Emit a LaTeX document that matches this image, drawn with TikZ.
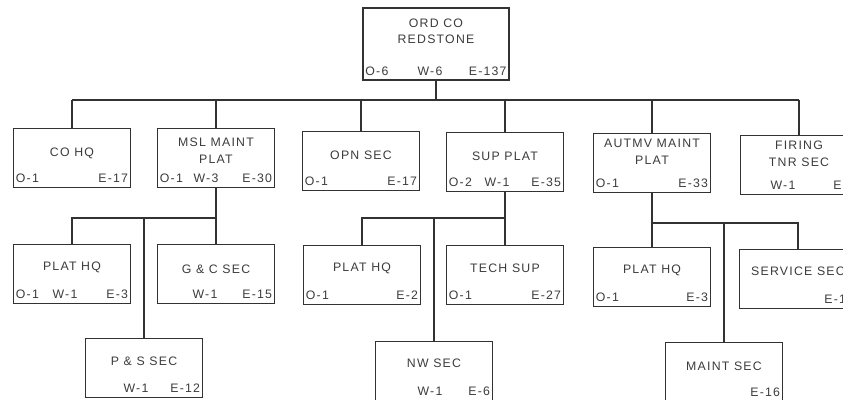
\documentclass[tikz,border=0pt]{standalone}
\usepackage{fontspec}
\usepackage{tikz}
\usepackage{xcolor}
\usetikzlibrary{calc,positioning}
\newfontfamily\letterfont[LetterSpace=10]{Liberation Sans}
\definecolor{inkgray}{RGB}{60,60,60}
\definecolor{linegray}{RGB}{50,50,50}

\begin{document}
\begin{tikzpicture}[x=0.03cm,y=-0.03cm,
  orgbox/.style={draw=linegray,line width=1.4pt,minimum width=3.51cm,minimum height=1.77cm,inner sep=0pt},
  ttl/.style={font=\letterfont\fontsize{10.5}{14}\selectfont,text=inkgray,align=center,inner sep=0pt},
  cnt/.style={font=\letterfont\fontsize{10.5}{12}\selectfont,text=inkgray,inner sep=0pt},
  wire/.style={draw=linegray,line width=1.1pt}]
\clip (0,0) rectangle (843,400);
\fill[white] (0,0) rectangle (843,400);
% top box
\node[orgbox,minimum width=4.38cm,minimum height=2.16cm] (ord) at (436,44) {};
\node[ttl] (ord-t) at ($(ord.north)+(0,24)$) {ORD CO\\REDSTONE};
% the other boxes
\foreach \n/\x/\y/\dy/\t in {cohq/72/158/26/{CO HQ},msl/216/158/23/{MSL MAINT\\PLAT},opn/361/161/25/{OPN SEC},
  sup/505/162/25/{SUP PLAT},autmv/652/163/19/{AUTMV MAINT\\PLAT},firing/799/165/19/{FIRING\\TNR SEC},
  plathq1/72/274/24/{PLAT HQ},gc/216/274/26/{G \& C SEC},plathq2/362/275/24/{PLAT HQ},
  techsup/505/275/24/{TECH SUP},plathq3/652/277/24/{PLAT HQ},service/798/279/23/{SERVICE SEC},
  ps/144/368/24/{P \& S SEC},nw/434/371/23/{NW SEC},maint/724/372/25/{MAINT SEC}}{
  \node[orgbox] (\n) at (\x,\y) {};
  \node[ttl] (\n-t) at ($(\n.north)+(0,\dy)$) {\t};
}
% strengths
\foreach \n/\v in {ord/6,cohq/1,msl/1,opn/1,sup/2,autmv/1,plathq1/1,plathq2/1,techsup/1,plathq3/1}
  \node[cnt,anchor=west] (\n-o) at ($(\n.south west)+(3,-10)$) {O-\v};
\foreach \n/\v/\d in {ord/6/-6,msl/3/-10,sup/1/-8,firing/1/-16,plathq1/1/-7,gc/1/-11,ps/1/-8,nw/1/-4}
  \node[cnt] (\n-w) at ($(\n.south)+(\d,-10)$) {W-\v};
\foreach \n/\v in {ord/137,cohq/17,msl/30,opn/17,sup/35,autmv/33,firing/5,plathq1/3,gc/15,
  plathq2/2,techsup/27,plathq3/3,service/14,ps/12,nw/6,maint/16}
  \node[cnt,anchor=east] (\n-e) at ($(\n.south east)+(-3,-10)$) {E-\v};
% connectors
\coordinate (bus) at (0,100);
\coordinate (mslbus) at (0,218);
\coordinate (supbus) at (0,218);
\coordinate (autbus) at (0,223);
\draw[wire] (ord.south) -- (ord.south |- bus);
\draw[wire] (cohq.north |- bus) -- (firing.north |- bus);
\foreach \n in {cohq,msl,opn,sup,autmv,firing}
  \draw[wire] (\n.north |- bus) -- (\n.north);
\draw[wire] (msl.south) -- (gc.north);
\draw[wire] (msl.south |- mslbus) -- (plathq1.north |- mslbus) -- (plathq1.north);
\draw[wire] (ps.north |- mslbus) -- (ps.north);
\draw[wire] (sup.south) -- (techsup.north);
\draw[wire] (sup.south |- supbus) -- (plathq2.north |- supbus) -- (plathq2.north);
\draw[wire] (nw.north |- supbus) -- (nw.north);
\draw[wire] (autmv.south) -- (plathq3.north);
\draw[wire] (autmv.south |- autbus) -- (service.north |- autbus) -- (service.north);
\draw[wire] (maint.north |- autbus) -- (maint.north);
\end{tikzpicture}
\end{document}
